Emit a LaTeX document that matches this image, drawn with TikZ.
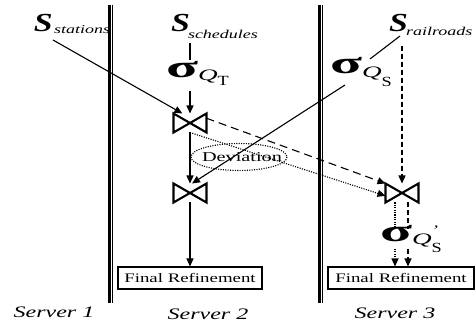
\documentclass[tikz,border=0pt]{standalone}
\usepackage{fontspec}
\setmainfont{Liberation Serif}
\usetikzlibrary{arrows.meta,calc,shapes.geometric}

% horizontally widened text
\newcommand{\hx}[2][1.5]{\scalebox{#1}[1]{#2}}
% selection symbol with its subscript
\newcommand{\selsym}{\hx[1.9]{\fontsize{31}{31}\selectfont\bfseries σ}}
\newcommand{\selQ}{\hx[1.7]{\fontsize{16}{16}\selectfont\itshape Q}}

\tikzset{
  txt/.style={inner sep=0pt, outer sep=0pt},
  bigS/.style={txt, font=\fontsize{26}{26}\selectfont\bfseries\itshape},
  subtxt/.style={txt, font=\fontsize{12}{12}\selectfont\itshape},
  sigma/.style={txt},
  joinbox/.style={minimum width=33pt, minimum height=19pt, inner sep=0pt, outer sep=0pt},
  jdraw/.style={line width=2.1pt, line join=miter},
  arr/.style={-{Triangle[length=8pt,width=7pt]}, line width=1.1pt},
  ddash/.style={line width=1.1pt, dash pattern=on 8pt off 5pt},
  vdash/.style={line width=1.4pt, dash pattern=on 5pt off 3pt},
  ddot/.style={line width=1.1pt, dash pattern=on 1.1pt off 1.3pt},
  finalbox/.style={draw, line width=1.1pt, minimum height=22pt, inner sep=0pt,
    font=\fontsize{13}{13}\selectfont},
  server/.style={txt, font=\fontsize{16}{16}\selectfont\itshape},
}

\begin{document}
\begin{tikzpicture}[x=1pt, y=-1pt]
\useasboundingbox (0,0) rectangle (475,329);
\fill[white] (0,0) rectangle (475,329);

% server separators (thick + thin rule)
\draw[line width=2.6pt] (109.7,5) -- (109.7,303);
\draw[line width=1.3pt] (112.6,5) -- (112.6,303);
\draw[line width=2.6pt] (319.5,5) -- (319.5,303);
\draw[line width=1.3pt] (322.4,5) -- (322.4,303);

% relation names
\node[bigS, anchor=base west] (sSt) at (34,32) {\hx[1.3]{S}};
\node[subtxt, anchor=base west] (sStSub) at (54,34) {\hx{stations}};
\node[bigS, anchor=base west] (sSc) at (171,32) {\hx[1.3]{S}};
\node[subtxt, anchor=base west] (sScSub) at (188,39) {\hx{schedules}};
\node[bigS, anchor=base west] (sRr) at (389,32) {\hx[1.3]{S}};
\node[subtxt, anchor=base west] (sRrSub) at (406,36) {\hx{railroads}};

% selections
\node[sigma, anchor=base west] (qT) at (166,78)
  {\selsym\raisebox{-3pt}{\selQ}\raisebox{-8pt}{\hx[1.3]{\fontsize{14}{14}\selectfont T}}};
\node[sigma, anchor=base west] (qS) at (330,74)
  {\selsym\raisebox{-4pt}{\selQ}\raisebox{-13pt}{\hx[1.3]{\fontsize{14}{14}\selectfont S}}};
\node[sigma, anchor=base west] (qS2) at (380,241)
  {\selsym\raisebox{-4pt}{\selQ}\rlap{\raisebox{6pt}{\hx{\fontsize{13}{13}\selectfont\itshape ’}}}\raisebox{-11pt}{\hx[1.3]{\fontsize{14}{14}\selectfont S}}};

% join operators
\node[joinbox] (j1) at (190,123) {};
\node[joinbox] (j2) at (190,193) {};
\node[joinbox] (j3) at (402,193) {};
\foreach \j in {j1,j2,j3}
  \draw[jdraw] (\j.north west) -- (\j.south east) -- (\j.north east) -- (\j.south west) -- cycle;

% deviation marker
\node[txt, font=\fontsize{13.5}{13.5}\selectfont] (dev) at (242,157) {\hx[1.5]{Deviation}};
\draw[ddot] (239,157) ellipse [x radius=48, y radius=13.5];

% final refinement boxes
\node[finalbox, minimum width=144pt] (fr2) at (190,278) {\hx[1.45]{Final Refinement}};
\node[finalbox, minimum width=146pt] (fr3) at (401,278) {\hx[1.45]{Final Refinement}};

% server labels
\node[server] (sv1) at (54,312) {\hx[1.5]{Server 1}};
\node[server] (sv2) at (208,314) {\hx[1.5]{Server 2}};
\node[server] (sv3) at (395,313) {\hx[1.5]{Server 3}};

% connector end points
\coordinate (stOut) at (53,40);
\coordinate (scOut) at (190,43);
\coordinate (qTin) at (190,60);
\coordinate (qTout) at (190,91);
\coordinate (rrOut) at (400,36);
\coordinate (qSin) at (370,59);
\coordinate (qSout) at (345,85);
\coordinate (rrDown) at (402,46);
\coordinate (q2inA) at (395,227);
\coordinate (q2inB) at (408,229);
\coordinate (q2outA) at (395,249);
\coordinate (q2outB) at (408,249);

% Server 2 plan
\draw[arr] (stOut) -- ($(j1.north west)!0.27!(j1.north east)$);
\draw[line width=1.1pt] (scOut) -- (qTin);
\draw[arr] (qTout) -- (j1.north);
\draw[arr] (j1.south) -- (j2.north);
\draw[arr] (j2.south) -- (fr2.north);
\draw[line width=1.1pt] (rrOut) -- (qSin);
\draw[arr] (qSout) -- ($(j2.north)+(2,0)$);

% Server 3 plan
\draw[arr, vdash] (rrDown) -- (j3.north);
\draw[arr, ddash] ($(j1.east)!0.5!(j1.north east)$) -- (j3.north west);
\draw[arr, ddot] (j1.south) -- ($(j3.west)!0.3!(j3.south west)$);
\draw[ddot, line width=1.3pt] ([xshift=-7pt]j3.south) -- (q2inA);
\draw[vdash] ([xshift=6pt]j3.south) -- (q2inB);
\draw[arr, ddot, line width=1.3pt] (q2outA) -- (q2outA |- fr3.north);
\draw[arr, vdash] (q2outB) -- (q2outB |- fr3.north);
\end{tikzpicture}
\end{document}
